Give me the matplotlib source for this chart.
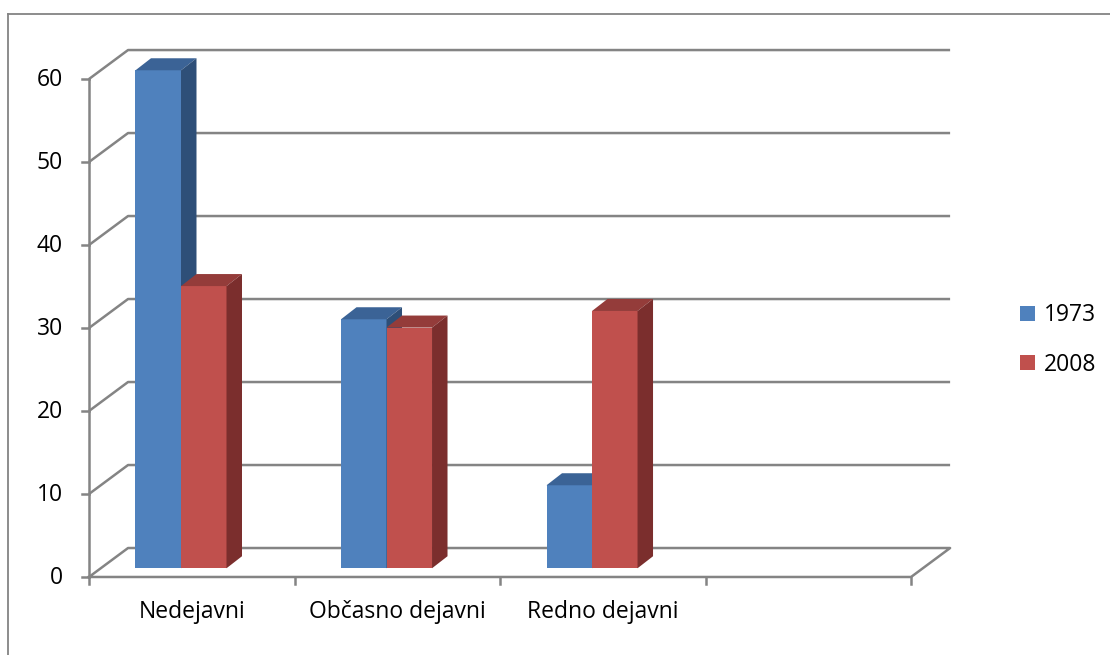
import matplotlib
matplotlib.use("Agg")
import matplotlib.pyplot as plt
from matplotlib.patches import Polygon, Patch
from matplotlib.lines import Line2D

plt.rcParams['font.family'] = ['Open Sans', 'DejaVu Sans']

categories = ["Nedejavni", "Občasno dejavni", "Redno dejavni", ""]
years = ["1973", "2008"]
vals_1973 = [60, 30, 10]
vals_2008 = [34, 29, 31]
yticks = [0, 10, 20, 30, 40, 50, 60]

# colours: front, top, side
blue = ("#4F81BD", "#3B6396", "#2E4F78")
red = ("#C0504D", "#943C3A", "#7B2E2D")
grid_col = "#848484"
fs = 16.5

fig = plt.figure(figsize=(11.10, 6.55), dpi=100)
ax = fig.add_axes([0, 0, 1, 1])
# x in category units, y in value units
ax.set_xlim(-0.433, 4.968)
ax.set_ylim(-9.40, 69.52)
ax.axis("off")

n_cat = len(categories)
dc, dv = 0.19, 3.49          # depth of the plot box
bw = 0.2214                  # bar width
bdc, bdv = 0.0754, 1.45      # bar depth
v0 = 1.05                    # bar base above the floor
shift = -0.0523              # gap between the two bars, relative to category centre

lw = 1.8
# back wall gridlines and left wall diagonals
for v in yticks[1:]:
    ax.plot([0, dc, n_cat + dc], [v, v + dv, v + dv], color=grid_col, lw=lw,
            zorder=1, solid_capstyle="butt")
    ax.plot([-0.034, 0], [v, v], color=grid_col, lw=lw, zorder=1)
# floor
ax.plot([0, n_cat, n_cat + dc, dc, 0], [0, 0, dv, dv, 0], color=grid_col, lw=lw, zorder=1)
ax.plot([-0.034, 0], [0, 0], color=grid_col, lw=lw, zorder=1)
# vertical axis
ax.plot([0, 0], [0, yticks[-1]], color=grid_col, lw=lw, zorder=1)
# category ticks
for i in range(n_cat + 1):
    ax.plot([i, i], [0, -0.85], color=grid_col, lw=lw, zorder=1)


def bar3d(x, h, cols, z):
    ax.bar(x, h, width=bw, bottom=v0, align="edge", color=cols[0],
           linewidth=0, zorder=z)
    top = v0 + h
    ax.add_patch(Polygon([(x, top), (x + bdc, top + bdv), (x + bw + bdc, top + bdv),
                          (x + bw, top)], closed=True, color=cols[1], lw=0, zorder=z))
    ax.add_patch(Polygon([(x + bw, v0), (x + bw + bdc, v0 + bdv),
                          (x + bw + bdc, top + bdv), (x + bw, top)],
                         closed=True, color=cols[2], lw=0, zorder=z))


for i, (a, b) in enumerate(zip(vals_1973, vals_2008)):
    centre = i + 0.5 + shift
    bar3d(centre - bw, a, blue, 3 + 2 * i)
    bar3d(centre, b, red, 4 + 2 * i)

# tick labels
for v in yticks:
    ax.text(-0.127, v - 0.15, str(v), ha="right", va="center", fontsize=fs, color="black")
for i, name in enumerate(categories):
    if name:
        ax.text(i + 0.5, -4.95, name, ha="center", va="baseline", fontsize=fs, color="black")

# legend
handles = [Patch(facecolor=blue[0], edgecolor="none"), Patch(facecolor=red[0], edgecolor="none")]
fig.legend(handles, years, loc="center left", bbox_to_anchor=(999 / 1110, 1 - 340 / 655),
           frameon=False, fontsize=fs, handlelength=0.65, handleheight=0.65,
           handletextpad=0.4, labelspacing=1.1)

# outer border
fig.add_artist(Line2D([8 / 1110, 1], [1 - 14 / 655, 1 - 14 / 655], color=grid_col, lw=1.3))
fig.add_artist(Line2D([8 / 1110, 8 / 1110], [0, 1 - 14 / 655], color=grid_col, lw=1.3))

fig.savefig("out.png", dpi=100)
